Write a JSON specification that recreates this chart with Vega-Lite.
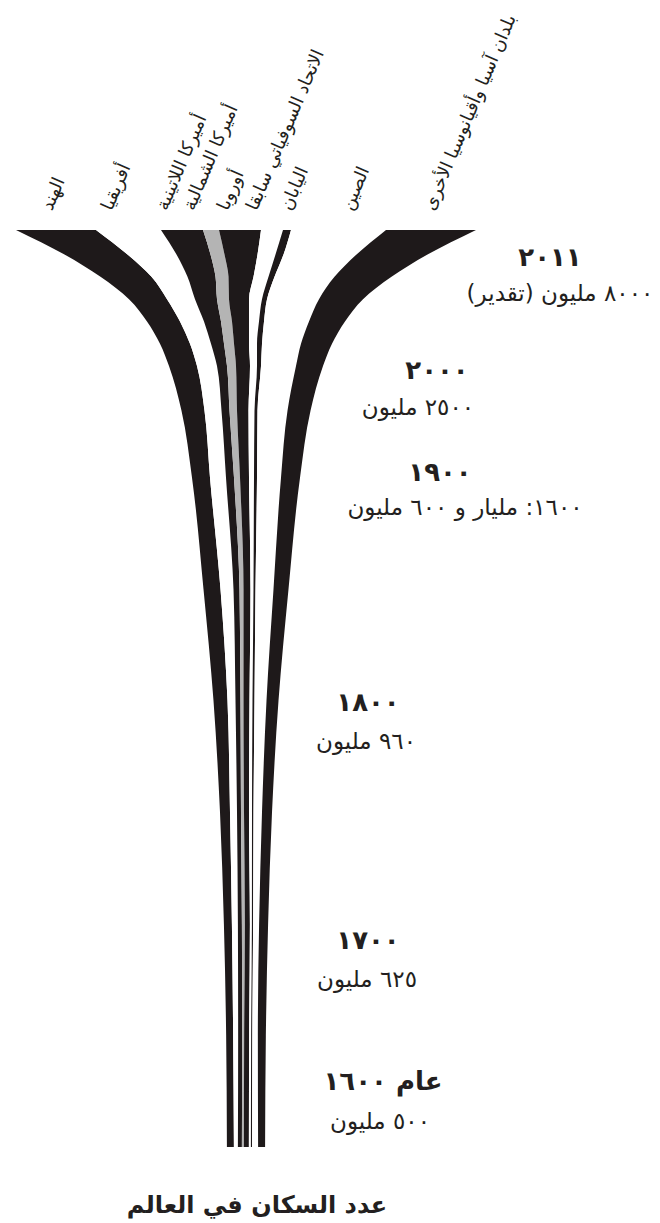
{
  "$schema": "https://vega.github.io/schema/vega-lite/v6.json",
  "width": 660,
  "height": 1223,
  "autosize": {"type": "none"},
  "padding": 0,
  "background": "white",
  "config": {"view": {"stroke": null}},
  "title": {"text": "عدد السكان في العالم", "orient": "bottom", "frame": "group", "offset": -29, "anchor": "middle", "dx": -73, "fontSize": 24, "font": "DejaVu Sans", "fontWeight": "bold", "color": "#231f20"},
  "datasets": {
    "bands": [
      {"year": 2011, "region": "الهند", "order": 1, "value": 80},
      {"year": 2011, "region": "أفريقيا", "order": 2, "value": 65},
      {"year": 2011, "region": "أميركا اللاتينية", "order": 3, "value": 42},
      {"year": 2011, "region": "أميركا الشمالية", "order": 4, "value": 16},
      {"year": 2011, "region": "أوروبا", "order": 5, "value": 42},
      {"year": 2011, "region": "الاتحاد السوفياتي سابقا", "order": 6, "value": 22},
      {"year": 2011, "region": "اليابان", "order": 7, "value": 8},
      {"year": 2011, "region": "الصين", "order": 8, "value": 95},
      {"year": 2011, "region": "بلدان آسيا وأقيانوسيا الأخرى", "order": 9, "value": 90},
      {"year": 2000, "region": "الهند", "order": 1, "value": 63},
      {"year": 2000, "region": "أفريقيا", "order": 2, "value": 49},
      {"year": 2000, "region": "أميركا اللاتينية", "order": 3, "value": 34},
      {"year": 2000, "region": "أميركا الشمالية", "order": 4, "value": 14},
      {"year": 2000, "region": "أوروبا", "order": 5, "value": 33},
      {"year": 2000, "region": "الاتحاد السوفياتي سابقا", "order": 6, "value": 18},
      {"year": 2000, "region": "اليابان", "order": 7, "value": 8},
      {"year": 2000, "region": "الصين", "order": 8, "value": 73},
      {"year": 2000, "region": "بلدان آسيا وأقيانوسيا الأخرى", "order": 9, "value": 71},
      {"year": 1990, "region": "الهند", "order": 1, "value": 51},
      {"year": 1990, "region": "أفريقيا", "order": 2, "value": 36},
      {"year": 1990, "region": "أميركا اللاتينية", "order": 3, "value": 28},
      {"year": 1990, "region": "أميركا الشمالية", "order": 4, "value": 13},
      {"year": 1990, "region": "أوروبا", "order": 5, "value": 25},
      {"year": 1990, "region": "الاتحاد السوفياتي سابقا", "order": 6, "value": 15},
      {"year": 1990, "region": "اليابان", "order": 7, "value": 6},
      {"year": 1990, "region": "الصين", "order": 8, "value": 60},
      {"year": 1990, "region": "بلدان آسيا وأقيانوسيا الأخرى", "order": 9, "value": 57},
      {"year": 1980, "region": "الهند", "order": 1, "value": 38},
      {"year": 1980, "region": "أفريقيا", "order": 2, "value": 28},
      {"year": 1980, "region": "أميركا اللاتينية", "order": 3, "value": 22},
      {"year": 1980, "region": "أميركا الشمالية", "order": 4, "value": 12},
      {"year": 1980, "region": "أوروبا", "order": 5, "value": 20},
      {"year": 1980, "region": "الاتحاد السوفياتي سابقا", "order": 6, "value": 13},
      {"year": 1980, "region": "اليابان", "order": 7, "value": 5},
      {"year": 1980, "region": "الصين", "order": 8, "value": 52},
      {"year": 1980, "region": "بلدان آسيا وأقيانوسيا الأخرى", "order": 9, "value": 44},
      {"year": 1970, "region": "الهند", "order": 1, "value": 33},
      {"year": 1970, "region": "أفريقيا", "order": 2, "value": 24},
      {"year": 1970, "region": "أميركا اللاتينية", "order": 3, "value": 17},
      {"year": 1970, "region": "أميركا الشمالية", "order": 4, "value": 11},
      {"year": 1970, "region": "أوروبا", "order": 5, "value": 17},
      {"year": 1970, "region": "الاتحاد السوفياتي سابقا", "order": 6, "value": 10},
      {"year": 1970, "region": "اليابان", "order": 7, "value": 5},
      {"year": 1970, "region": "الصين", "order": 8, "value": 45},
      {"year": 1970, "region": "بلدان آسيا وأقيانوسيا الأخرى", "order": 9, "value": 36},
      {"year": 1960, "region": "الهند", "order": 1, "value": 30},
      {"year": 1960, "region": "أفريقيا", "order": 2, "value": 21},
      {"year": 1960, "region": "أميركا اللاتينية", "order": 3, "value": 13},
      {"year": 1960, "region": "أميركا الشمالية", "order": 4, "value": 10},
      {"year": 1960, "region": "أوروبا", "order": 5, "value": 15},
      {"year": 1960, "region": "الاتحاد السوفياتي سابقا", "order": 6, "value": 8},
      {"year": 1960, "region": "اليابان", "order": 7, "value": 5},
      {"year": 1960, "region": "الصين", "order": 8, "value": 39},
      {"year": 1960, "region": "بلدان آسيا وأقيانوسيا الأخرى", "order": 9, "value": 31},
      {"year": 1950, "region": "الهند", "order": 1, "value": 28},
      {"year": 1950, "region": "أفريقيا", "order": 2, "value": 20},
      {"year": 1950, "region": "أميركا اللاتينية", "order": 3, "value": 10},
      {"year": 1950, "region": "أميركا الشمالية", "order": 4, "value": 9},
      {"year": 1950, "region": "أوروبا", "order": 5, "value": 14},
      {"year": 1950, "region": "الاتحاد السوفياتي سابقا", "order": 6, "value": 7},
      {"year": 1950, "region": "اليابان", "order": 7, "value": 4},
      {"year": 1950, "region": "الصين", "order": 8, "value": 35},
      {"year": 1950, "region": "بلدان آسيا وأقيانوسيا الأخرى", "order": 9, "value": 27},
      {"year": 1930, "region": "الهند", "order": 1, "value": 23},
      {"year": 1930, "region": "أفريقيا", "order": 2, "value": 17},
      {"year": 1930, "region": "أميركا اللاتينية", "order": 3, "value": 8},
      {"year": 1930, "region": "أميركا الشمالية", "order": 4, "value": 7.5},
      {"year": 1930, "region": "أوروبا", "order": 5, "value": 11.5},
      {"year": 1930, "region": "الاتحاد السوفياتي سابقا", "order": 6, "value": 6},
      {"year": 1930, "region": "اليابان", "order": 7, "value": 3},
      {"year": 1930, "region": "الصين", "order": 8, "value": 30},
      {"year": 1930, "region": "بلدان آسيا وأقيانوسيا الأخرى", "order": 9, "value": 23},
      {"year": 1900, "region": "الهند", "order": 1, "value": 18},
      {"year": 1900, "region": "أفريقيا", "order": 2, "value": 16},
      {"year": 1900, "region": "أميركا اللاتينية", "order": 3, "value": 8},
      {"year": 1900, "region": "أميركا الشمالية", "order": 4, "value": 6},
      {"year": 1900, "region": "أوروبا", "order": 5, "value": 9},
      {"year": 1900, "region": "الاتحاد السوفياتي سابقا", "order": 6, "value": 5},
      {"year": 1900, "region": "اليابان", "order": 7, "value": 3},
      {"year": 1900, "region": "الصين", "order": 8, "value": 24},
      {"year": 1900, "region": "بلدان آسيا وأقيانوسيا الأخرى", "order": 9, "value": 19},
      {"year": 1850, "region": "الهند", "order": 1, "value": 17},
      {"year": 1850, "region": "أفريقيا", "order": 2, "value": 13},
      {"year": 1850, "region": "أميركا اللاتينية", "order": 3, "value": 6},
      {"year": 1850, "region": "أميركا الشمالية", "order": 4, "value": 4},
      {"year": 1850, "region": "أوروبا", "order": 5, "value": 7},
      {"year": 1850, "region": "الاتحاد السوفياتي سابقا", "order": 6, "value": 3},
      {"year": 1850, "region": "اليابان", "order": 7, "value": 2},
      {"year": 1850, "region": "الصين", "order": 8, "value": 18},
      {"year": 1850, "region": "بلدان آسيا وأقيانوسيا الأخرى", "order": 9, "value": 15},
      {"year": 1800, "region": "الهند", "order": 1, "value": 14},
      {"year": 1800, "region": "أفريقيا", "order": 2, "value": 8},
      {"year": 1800, "region": "أميركا اللاتينية", "order": 3, "value": 5},
      {"year": 1800, "region": "أميركا الشمالية", "order": 4, "value": 3},
      {"year": 1800, "region": "أوروبا", "order": 5, "value": 6},
      {"year": 1800, "region": "الاتحاد السوفياتي سابقا", "order": 6, "value": 3},
      {"year": 1800, "region": "اليابان", "order": 7, "value": 2},
      {"year": 1800, "region": "الصين", "order": 8, "value": 12},
      {"year": 1800, "region": "بلدان آسيا وأقيانوسيا الأخرى", "order": 9, "value": 12},
      {"year": 1750, "region": "الهند", "order": 1, "value": 10},
      {"year": 1750, "region": "أفريقيا", "order": 2, "value": 7},
      {"year": 1750, "region": "أميركا اللاتينية", "order": 3, "value": 4},
      {"year": 1750, "region": "أميركا الشمالية", "order": 4, "value": 3},
      {"year": 1750, "region": "أوروبا", "order": 5, "value": 5},
      {"year": 1750, "region": "الاتحاد السوفياتي سابقا", "order": 6, "value": 3},
      {"year": 1750, "region": "اليابان", "order": 7, "value": 1.5},
      {"year": 1750, "region": "الصين", "order": 8, "value": 8.5},
      {"year": 1750, "region": "بلدان آسيا وأقيانوسيا الأخرى", "order": 9, "value": 10},
      {"year": 1700, "region": "الهند", "order": 1, "value": 8},
      {"year": 1700, "region": "أفريقيا", "order": 2, "value": 6},
      {"year": 1700, "region": "أميركا اللاتينية", "order": 3, "value": 4},
      {"year": 1700, "region": "أميركا الشمالية", "order": 4, "value": 3},
      {"year": 1700, "region": "أوروبا", "order": 5, "value": 5},
      {"year": 1700, "region": "الاتحاد السوفياتي سابقا", "order": 6, "value": 2},
      {"year": 1700, "region": "اليابان", "order": 7, "value": 1.2},
      {"year": 1700, "region": "الصين", "order": 8, "value": 6},
      {"year": 1700, "region": "بلدان آسيا وأقيانوسيا الأخرى", "order": 9, "value": 9},
      {"year": 1650, "region": "الهند", "order": 1, "value": 7},
      {"year": 1650, "region": "أفريقيا", "order": 2, "value": 5},
      {"year": 1650, "region": "أميركا اللاتينية", "order": 3, "value": 4},
      {"year": 1650, "region": "أميركا الشمالية", "order": 4, "value": 2},
      {"year": 1650, "region": "أوروبا", "order": 5, "value": 5},
      {"year": 1650, "region": "الاتحاد السوفياتي سابقا", "order": 6, "value": 2},
      {"year": 1650, "region": "اليابان", "order": 7, "value": 1.2},
      {"year": 1650, "region": "الصين", "order": 8, "value": 5.5},
      {"year": 1650, "region": "بلدان آسيا وأقيانوسيا الأخرى", "order": 9, "value": 8},
      {"year": 1600, "region": "الهند", "order": 1, "value": 7},
      {"year": 1600, "region": "أفريقيا", "order": 2, "value": 4},
      {"year": 1600, "region": "أميركا اللاتينية", "order": 3, "value": 4},
      {"year": 1600, "region": "أميركا الشمالية", "order": 4, "value": 2},
      {"year": 1600, "region": "أوروبا", "order": 5, "value": 5},
      {"year": 1600, "region": "الاتحاد السوفياتي سابقا", "order": 6, "value": 2},
      {"year": 1600, "region": "اليابان", "order": 7, "value": 1.2},
      {"year": 1600, "region": "الصين", "order": 8, "value": 6},
      {"year": 1600, "region": "بلدان آسيا وأقيانوسيا الأخرى", "order": 9, "value": 7}
    ],
    "years": [
      {"year": 2011, "yearText": "٢٠١١", "popText": "‏٨٠٠٠ مليون  (تقدير)‏"},
      {"year": 2000, "yearText": "٢٠٠٠", "popText": "‏٢٥٠٠ مليون‏"},
      {"year": 1900, "yearText": "١٩٠٠", "popText": "‏١٦٠٠: مليار  و ٦٠٠ مليون‏"},
      {"year": 1800, "yearText": "١٨٠٠", "popText": "‏٩٦٠ مليون‏"},
      {"year": 1700, "yearText": "١٧٠٠", "popText": "‏٦٢٥ مليون‏"},
      {"year": 1600, "yearText": "‏عام ١٦٠٠‏", "popText": "‏٥٠٠ مليون‏"}
    ]
  },
  "layer": [
    {
      "data": {"name": "bands"},
      "mark": {"type": "area", "orient": "horizontal", "interpolate": "monotone", "strokeWidth": 0},
      "encoding": {
        "y": {"field": "year", "type": "quantitative", "scale": {"domain": [1600, 2011], "range": [1147, 230], "zero": false, "nice": false}, "axis": null},
        "x": {"field": "value", "type": "quantitative", "stack": "center", "scale": {"domain": [-16, 644], "range": [0, 660], "zero": false, "nice": false}, "axis": null},
        "color": {
          "field": "region", "type": "nominal", "legend": null,
          "scale": {
            "domain": ["الهند", "أفريقيا", "أميركا اللاتينية", "أميركا الشمالية", "أوروبا", "الاتحاد السوفياتي سابقا", "اليابان", "الصين", "بلدان آسيا وأقيانوسيا الأخرى"],
            "range": ["#1e191a", "#ffffff", "#1e191a", "#b4b4b4", "#1e191a", "#ffffff", "#1e191a", "#ffffff", "#1e191a"]
          }
        },
        "order": {"field": "order", "type": "quantitative"}
      }
    },
    {
      "data": {"name": "bands"},
      "transform": [{"filter": "datum.year == 2011"}],
      "mark": {"type": "text", "angle": -67, "align": "left", "baseline": "alphabetic", "dx": 20, "font": "DejaVu Sans", "fontSize": 18, "color": "#231f20"},
      "encoding": {
        "x": {"field": "order", "type": "quantitative", "scale": {"domain": [1, 2, 3, 4, 5, 6, 7, 8, 9], "range": [44, 104, 159, 186, 220, 249, 283, 344, 426]}, "axis": null},
        "y": {"datum": 2011, "type": "quantitative", "scale": {"domain": [1600, 2011], "range": [1147, 230], "zero": false, "nice": false}, "axis": null},
        "text": {"field": "region"}
      }
    },
    {
      "data": {"name": "years"},
      "mark": {"type": "text", "align": "center", "baseline": "middle", "font": "DejaVu Sans", "fontWeight": "bold", "fontSize": 26, "color": "#231f20"},
      "encoding": {
        "x": {"field": "year", "type": "quantitative", "scale": {"domain": [1600, 1700, 1800, 1900, 2000, 2011], "range": [383, 368, 368, 440, 437, 550]}, "axis": null},
        "y": {"field": "year", "type": "quantitative", "scale": {"domain": [1600, 1700, 1800, 1900, 2000, 2011], "range": [1082, 941, 703, 473, 371, 258]}, "axis": null},
        "text": {"field": "yearText"}
      }
    },
    {
      "data": {"name": "years"},
      "mark": {"type": "text", "align": "center", "baseline": "middle", "font": "DejaVu Sans", "fontSize": 23, "color": "#231f20"},
      "encoding": {
        "x": {"field": "year", "type": "quantitative", "scale": {"domain": [1600, 1700, 1800, 1900, 2000, 2011], "range": [380, 367, 366, 465, 418, 560]}, "axis": null},
        "y": {"field": "year", "type": "quantitative", "scale": {"domain": [1600, 1700, 1800, 1900, 2000, 2011], "range": [1122, 980, 742, 508, 408, 294]}, "axis": null},
        "text": {"field": "popText"}
      }
    }
  ],
  "resolve": {"scale": {"x": "independent", "y": "independent"}}
}
